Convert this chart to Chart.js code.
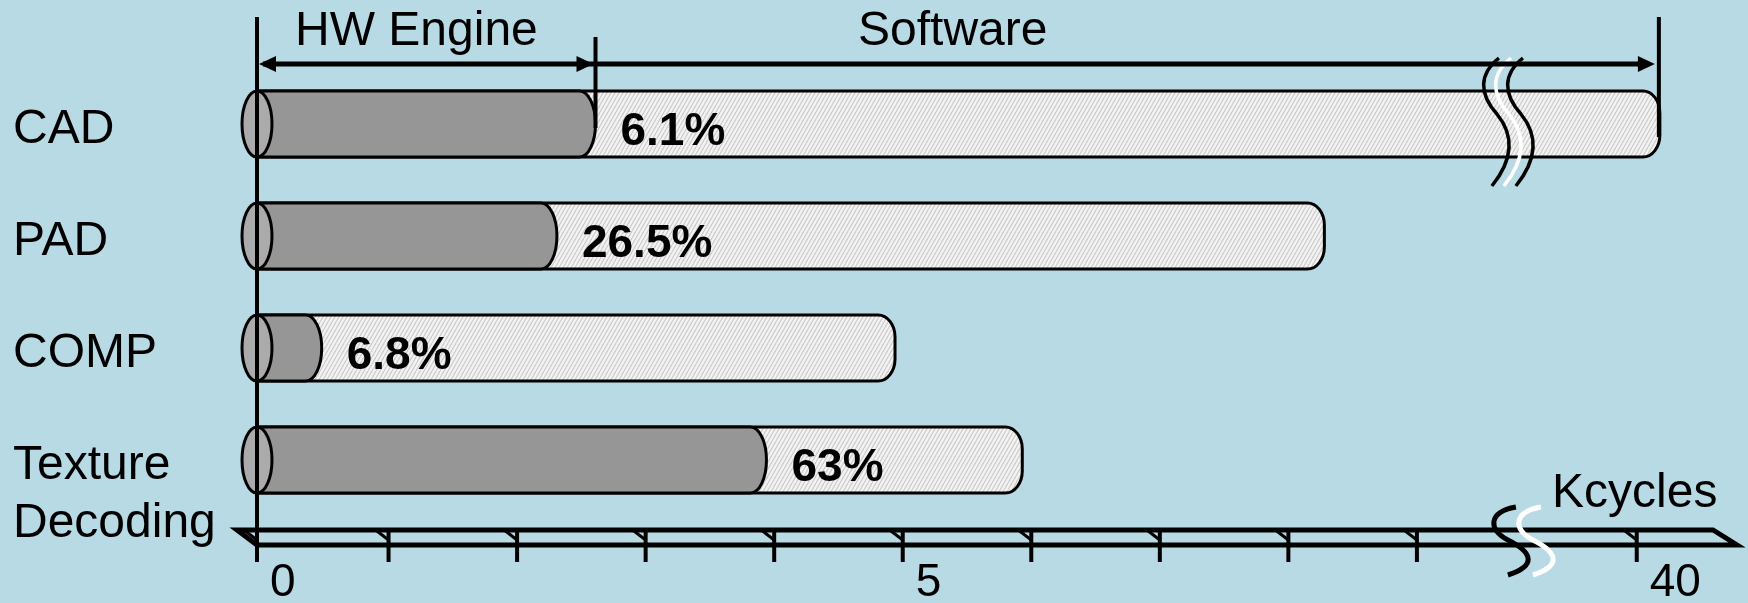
<!DOCTYPE html>
<html>
<head>
<meta charset="utf-8">
<title>HW Engine vs Software</title>
<script src="https://cdn.jsdelivr.net/npm/chart.js@4.4.1/dist/chart.umd.min.js"></script>
<style>
  html, body { margin: 0; padding: 0; background: #b8dae5; }
  #wrap { width: 1748px; height: 603px; position: relative; }
</style>
</head>
<body>
<div id="wrap"><canvas id="cyclesChart"></canvas></div>
<script>
// cycles per kernel, in Kcycles
const categories = ['CAD', 'PAD', 'COMP', ['Texture', 'Decoding']];
const hwCycles = [2.61, 2.31, 0.48, 3.94];
const swCycles = [40.18, 8.28, 4.94, 5.93];
const hwShare = ['6.1%', '26.5%', '6.8%', '63%'];

// x axis: 0..9 then a break up to 40
const tickValues = [0, 1, 2, 3, 4, 5, 6, 7, 8, 9, 40];
const tickLabels = ['0', '', '', '', '', '5', '', '', '', '', '40'];
const BREAK_FROM = 9.70;
const BREAK_TO = 38.99;
const AXIS_END = 40.78;

const FONT = "'Liberation Sans', Arial, sans-serif";

// squeeze the gap out of the value range
function squeeze(v) {
    if (v <= BREAK_FROM) return v;
    if (v >= BREAK_TO) return v - (BREAK_TO - BREAK_FROM);
    return BREAK_FROM;
}

class BrokenLinearScale extends Chart.LinearScale {
    static id = 'brokenLinear';

    getPixelForValue(value) {
        const a = squeeze(this.min), b = squeeze(this.max);
        return this.getPixelForDecimal((squeeze(value) - a) / (b - a));
    }

    getValueForPixel(pixel) {
        const a = squeeze(this.min), b = squeeze(this.max);
        const u = a + this.getDecimalForPixel(pixel) * (b - a);
        return u <= BREAK_FROM ? u : u + (BREAK_TO - BREAK_FROM);
    }
}
Chart.register(BrokenLinearScale);

// light diagonal hatching for the software part
function makeHatch() {
    const c = document.createElement('canvas');
    c.width = 4;
    c.height = 7;
    const g = c.getContext('2d');
    g.fillStyle = '#f3f3f3';
    g.fillRect(0, 0, 4, 7);
    g.strokeStyle = '#cdcdcd';
    g.lineWidth = 1.3;
    [-4, 0, 4].forEach(dx => {
        g.beginPath();
        g.moveTo(dx, 7);
        g.lineTo(dx + 4, 0);
        g.stroke();
    });
    return document.createElement('canvas').getContext('2d').createPattern(c, 'repeat');
}
const hatch = makeHatch();

// bar body with a rounded right end
function roundEnd(ctx, x0, x1, yc, h, rx, ry) {
    ctx.beginPath();
    ctx.moveTo(x0, yc - h);
    ctx.lineTo(x1 - rx, yc - h);
    ctx.ellipse(x1 - rx, yc - h + ry, rx, ry, 0, -Math.PI / 2, 0);
    ctx.lineTo(x1, yc + h - ry);
    ctx.ellipse(x1 - rx, yc + h - ry, rx, ry, 0, 0, Math.PI / 2);
    ctx.lineTo(x0, yc + h);
    ctx.closePath();
}

const cylinderBars = {
    id: 'cylinderBars',
    afterDatasetsDraw(chart) {
        const ctx = chart.ctx;
        const hw = chart.getDatasetMeta(0).data;
        const sw = chart.getDatasetMeta(1).data;
        ctx.save();
        ctx.lineWidth = 3;
        ctx.strokeStyle = '#000';
        sw.forEach((bar, i) => {
            const h = bar.height / 2;
            roundEnd(ctx, bar.base, bar.x, bar.y, h, 17, 22);
            ctx.fillStyle = hatch;
            ctx.fill();
            ctx.stroke();

            const hb = hw[i];
            roundEnd(ctx, hb.base, hb.x, hb.y, h, 16, h);
            ctx.fillStyle = '#969696';
            ctx.fill();
            ctx.stroke();

            // left face of the cylinder
            ctx.beginPath();
            ctx.ellipse(bar.base - 3, bar.y, 15, h, 0, 0, Math.PI * 2);
            ctx.fillStyle = '#ababab';
            ctx.fill();
            ctx.stroke();
        });

        ctx.fillStyle = '#000';
        ctx.font = 'bold 46px ' + FONT;
        ctx.textAlign = 'left';
        ctx.textBaseline = 'alphabetic';
        hw.forEach((bar, i) => ctx.fillText(hwShare[i], bar.x + 25, bar.y + 21));
        ctx.restore();
    }
};

function arrowHead(ctx, tipX, y, dir) {
    ctx.beginPath();
    ctx.moveTo(tipX, y);
    ctx.lineTo(tipX - dir * 17, y - 8);
    ctx.lineTo(tipX - dir * 17, y + 8);
    ctx.closePath();
    ctx.fill();
}

// wavy cut through the CAD bar
function barWave(ctx, cx) {
    ctx.beginPath();
    ctx.moveTo(cx + 4, 58);
    ctx.bezierCurveTo(cx - 16, 74, cx - 16, 94, cx + 2, 114);
    ctx.bezierCurveTo(cx + 20, 136, cx + 18, 160, cx - 3, 186);
    ctx.stroke();
}

// cut mark on the axis
function axisWave(ctx, bx) {
    ctx.beginPath();
    ctx.moveTo(bx, 507);
    ctx.bezierCurveTo(bx - 28, 512, bx - 28, 530, bx - 8, 540);
    ctx.bezierCurveTo(bx + 18, 553, bx + 20, 566, bx - 8, 575);
    ctx.stroke();
}

const frame = {
    id: 'frame',
    afterDatasetsDraw(chart) {
        const ctx = chart.ctx;
        const xs = chart.scales.x;
        const x0 = xs.getPixelForValue(0) - 3;
        const xEnd = xs.getPixelForValue(AXIS_END);
        const hwEnd = chart.getDatasetMeta(0).data[0].x;
        const swEnd = chart.getDatasetMeta(1).data[0].x;
        const cut = xs.getPixelForValue(BREAK_FROM);
        const yTop = 530, yBot = 545;

        ctx.save();
        ctx.strokeStyle = '#000';
        ctx.fillStyle = '#000';

        // flat "3D" axis strip
        ctx.lineWidth = 5;
        ctx.lineJoin = 'miter';
        ctx.beginPath();
        ctx.moveTo(x0 - 20, yTop);
        ctx.lineTo(xEnd - 24, yTop);
        ctx.lineTo(xEnd, yBot);
        ctx.lineTo(x0, yBot);
        ctx.closePath();
        ctx.stroke();

        ctx.font = '46px ' + FONT;
        ctx.textAlign = 'left';
        ctx.textBaseline = 'middle';
        tickValues.forEach((v, i) => {
            const x = v === 0 ? x0 : xs.getPixelForValue(v);
            ctx.lineWidth = 3;
            ctx.beginPath();
            ctx.moveTo(x - 13, yTop);
            ctx.lineTo(x, yTop + 10);
            ctx.stroke();
            ctx.lineWidth = 4;
            ctx.beginPath();
            ctx.moveTo(x, yTop + 2);
            ctx.lineTo(x, 562);
            ctx.stroke();
            if (tickLabels[i]) ctx.fillText(tickLabels[i], x + 13, 583);
        });

        // axis break
        ctx.lineWidth = 5;
        ctx.strokeStyle = '#000';
        axisWave(ctx, cut + 9);
        ctx.strokeStyle = '#fff';
        axisWave(ctx, cut + 34);

        // break through the long bar
        ctx.lineWidth = 3.5;
        ctx.strokeStyle = '#000';
        barWave(ctx, cut - 12);
        barWave(ctx, cut + 12);
        ctx.strokeStyle = '#fff';
        barWave(ctx, cut);

        // value axis line
        ctx.strokeStyle = '#000';
        ctx.lineWidth = 4;
        ctx.beginPath();
        ctx.moveTo(x0, 17);
        ctx.lineTo(x0, 562);
        ctx.stroke();

        // HW / software span markers
        ctx.beginPath();
        ctx.moveTo(hwEnd, 37);
        ctx.lineTo(hwEnd, 128);
        ctx.moveTo(swEnd - 1, 17);
        ctx.lineTo(swEnd - 1, 137);
        ctx.stroke();

        ctx.lineWidth = 5;
        ctx.beginPath();
        ctx.moveTo(x0 + 6, 64);
        ctx.lineTo(swEnd - 12, 64);
        ctx.stroke();
        arrowHead(ctx, x0 + 2, 64, -1);
        arrowHead(ctx, hwEnd - 2, 64, 1);
        arrowHead(ctx, swEnd - 5, 64, 1);

        ctx.font = '48px ' + FONT;
        ctx.textBaseline = 'alphabetic';
        ctx.fillText('HW Engine', 295, 45);
        ctx.fillText('Software', 858, 45);
        ctx.fillText('Kcycles', 1552, 507);
        ctx.restore();
    }
};

const ctx = document.getElementById('cyclesChart').getContext('2d');
new Chart(ctx, {
    type: 'bar',
    data: {
        labels: categories,
        datasets: [
            {
                label: 'HW Engine',
                data: hwCycles,
                backgroundColor: 'rgba(0,0,0,0)',
                borderWidth: 0,
                grouped: false,
                barThickness: 66
            },
            {
                label: 'Software',
                data: swCycles,
                backgroundColor: 'rgba(0,0,0,0)',
                borderWidth: 0,
                grouped: false,
                barThickness: 66
            }
        ]
    },
    options: {
        indexAxis: 'y',
        responsive: true,
        maintainAspectRatio: false,
        animation: false,
        layout: { padding: { left: 13, top: 68, right: 2, bottom: 87 } },
        plugins: {
            legend: { display: false },
            tooltip: { enabled: false }
        },
        scales: {
            x: {
                type: 'brokenLinear',
                display: false,
                min: 0,
                max: 40.85,
                bounds: 'data'
            },
            y: {
                grid: { display: false },
                border: { display: false },
                ticks: {
                    autoSkip: false,
                    color: '#000',
                    font: { family: FONT, size: 48, lineHeight: 1.21 },
                    crossAlign: 'far',
                    padding: 0,
                    labelOffset: 35,
                    // every label gets two lines so the first lines line up
                    callback: (value, i) => [].concat(categories[i], '').slice(0, 2)
                },
                afterFit: scale => {
                    scale.width = 247;
                    scale.paddingTop = 0;
                    scale.paddingBottom = 0;
                }
            }
        }
    },
    plugins: [cylinderBars, frame]
});
</script>
</body>
</html>
